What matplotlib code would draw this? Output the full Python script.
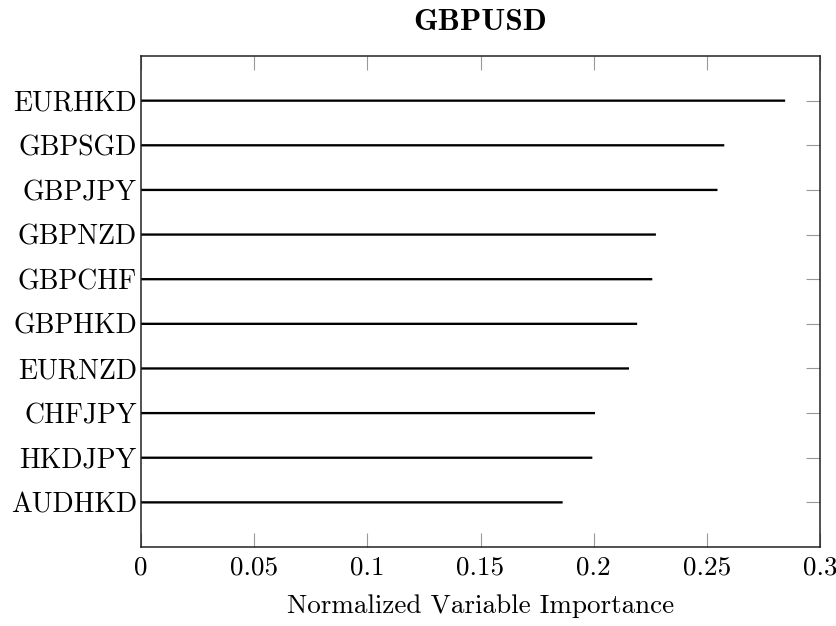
import matplotlib
matplotlib.use("Agg")
import matplotlib.pyplot as plt
import numpy as np

# variable importance for the GBPUSD model, largest first
pairs = ['EURHKD', 'GBPSGD', 'GBPJPY', 'GBPNZD', 'GBPCHF',
         'GBPHKD', 'EURNZD', 'CHFJPY', 'HKDJPY', 'AUDHKD']
importance = [0.2846, 0.2577, 0.2547, 0.2275, 0.2259,
              0.2192, 0.2156, 0.2006, 0.1994, 0.1863]
xticks = [0, 0.05, 0.1, 0.15, 0.2, 0.25, 0.3]
xtick_labels = ['0', '0.05', '0.1', '0.15', '0.2', '0.25', '0.3']

plt.rcParams['font.family'] = ['cmr10', 'DejaVu Serif']
plt.rcParams['axes.formatter.use_mathtext'] = True
plt.rcParams['font.size'] = 19.5

fig = plt.figure(figsize=(8.37, 6.26), dpi=100)
ax = fig.add_axes([0.1685, 0.1262, 0.9797 - 0.1685, 0.9105 - 0.1262])

ypos = np.arange(len(pairs))[::-1]
bars = ax.barh(ypos, importance, height=0.052, color='black', left=0)
for b in bars:
    b.set_snap(False)

ax.set_xlim(0, 0.3)
ax.set_ylim(-1, len(pairs))
ax.set_xticks(xticks)
ax.set_xticklabels(xtick_labels)
ax.set_yticks(ypos)
ax.set_yticklabels(pairs, fontsize=20)

# pgfplots-style inward ticks, mirrored on the opposite sides
ax.tick_params(axis='x', direction='in', length=10, width=0.8, color='#999999',
               top=True, bottom=True, pad=6)
ax.tick_params(axis='y', direction='in', length=10, width=0.8, color='#999999',
               left=False, right=True, pad=3)
for s in ax.spines.values():
    s.set_linewidth(1.1)
    s.set_color('#222222')

ax.set_xlabel('Normalized Variable Importance', labelpad=11)
ax.set_title('GBPUSD', fontfamily=['cmb10', 'DejaVu Serif'], fontsize=22.5, pad=19)

fig.savefig('out.png', dpi=100)
